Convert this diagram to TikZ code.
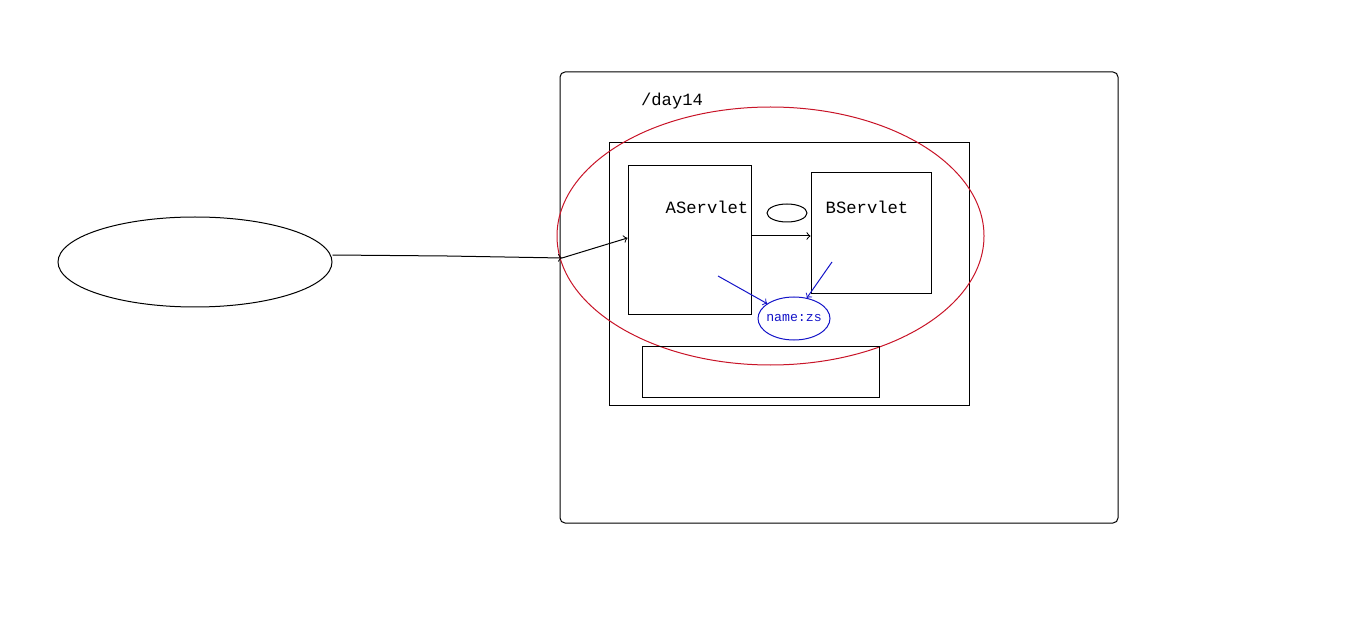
\documentclass[tikz,border=0pt]{standalone}
\usepackage{fontspec}
\setmonofont{Liberation Mono}
\usetikzlibrary{shapes.geometric}
\definecolor{inkred}{RGB}{200,20,40}
\definecolor{inkblue}{RGB}{20,20,200}

\begin{document}
\begin{tikzpicture}[
        x=0.5pt, y=-0.5pt,
        line width=0.5pt,
        box/.style={draw, rectangle, inner sep=0pt},
        oval/.style={draw, ellipse, inner sep=0pt},
        txt/.style={font=\ttfamily\fontsize{8.6}{10}\selectfont, inner sep=0pt},
        conn/.style={->},
        blueconn/.style={->, draw=inkblue}]
        % 画布
        \useasboundingbox (0,0) rectangle (1360,620);
        % 客户端
        \node[oval, minimum width=137pt, minimum height=45pt] (client) at (195,262) {};
        % 服务器与 /day14
        \node[box, rounded corners=2.5pt, minimum width=279pt, minimum height=225.5pt] (server) at (839,297.5) {};
        \node[txt] (day) at (672,101) {/day14};
        \node[box, minimum width=180pt, minimum height=131pt] (app) at (789,274) {};
        % 红色椭圆
        \node[oval, draw=inkred, minimum width=213.5pt, minimum height=129pt] (ring) at (770.5,236) {};
        % 两个 Servlet
        \node[box, minimum width=61.5pt, minimum height=74.5pt] (aserv) at (689.5,240.5) {};
        \node[txt] (alabel) at (707,207) {AServlet};
        \node[box, minimum width=60pt, minimum height=60.5pt] (bserv) at (871,233.5) {};
        \node[txt] (blabel) at (867,207) {BServlet};
        \node[oval, minimum width=20pt, minimum height=9pt] (small) at (787,213) {};
        \node[box, minimum width=118.5pt, minimum height=25.5pt] (bottom) at (760.5,371.5) {};
        % name:zs
        \node[oval, draw=inkblue, inner sep=-1.6pt, minimum width=36pt, minimum height=21.5pt,
              font=\ttfamily\fontsize{6.6}{8}\selectfont, text=inkblue] (attr) at (794,318.5) {name:zs};
        % 定义坐标点
        \coordinate (entry) at (562,258);
        \coordinate (mid) at (447,256);
        \coordinate (aout) at (751,236);
        \coordinate (ablue) at (718,276);
        \coordinate (bblue) at (832,262);
        % 连线
        \draw (client.east |- 0,255) -- (mid);
        \draw[conn] (mid) -- (entry);
        \draw[conn] (entry) -- (aserv.west |- 0,238);
        \draw[conn] (aout) -- (bserv.west |- aout);
        \draw[blueconn] (ablue) -- (attr.151);
        \draw[blueconn] (bblue) -- (attr.58);
\end{tikzpicture}
\end{document}
